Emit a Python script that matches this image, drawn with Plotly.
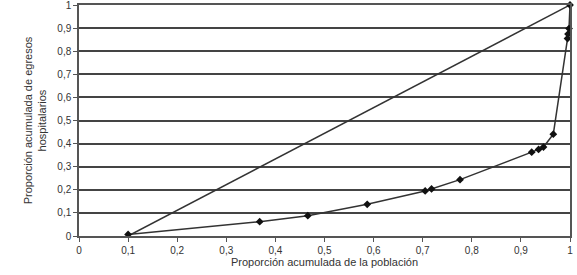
import plotly.graph_objects as go

# Lorenz curve data (cumulative population vs cumulative hospital discharges)
pop_cum = [0.1, 0.368, 0.466, 0.587, 0.705, 0.718, 0.776, 0.922, 0.936, 0.946, 0.966, 0.995, 0.996, 0.998, 1.0]
egr_cum = [0.007, 0.062, 0.088, 0.137, 0.195, 0.204, 0.244, 0.363, 0.375, 0.385, 0.441, 0.855, 0.874, 0.898, 1.0]

# Equality line
eq_x = [0.1, 1.0]
eq_y = [0.0, 1.0]

x_ticks = [0, 0.1, 0.2, 0.3, 0.4, 0.5, 0.6, 0.7, 0.8, 0.9, 1]
x_ticklabels = ["0", "0,1", "0,2", "0,3", "0,4", "0,5", "0,6", "0,7", "0,8", "0,9", "1"]
y_ticks = [0, 0.1, 0.2, 0.3, 0.4, 0.5, 0.6, 0.7, 0.8, 0.9, 1]
y_ticklabels = ["0", "0,1", "0,2", "0,3", "0,4", "0,5", "0,6", "0,7", "0,8", "0,9", "1"]

fig = go.Figure()
fig.add_trace(go.Scatter(x=eq_x, y=eq_y, mode="lines",
                         line=dict(color="#333333", width=1.5), showlegend=False,
                         cliponaxis=False))
fig.add_trace(go.Scatter(x=pop_cum, y=egr_cum, mode="lines+markers",
                         line=dict(color="#333333", width=1.5),
                         marker=dict(symbol="diamond", size=6, color="#111111"),
                         showlegend=False, cliponaxis=False))

font = dict(family="Liberation Sans, Arial, sans-serif", size=10, color="#333333")

fig.update_layout(
    width=577, height=275,
    margin=dict(l=79, r=7, t=5, b=39, autoexpand=False),
    paper_bgcolor="white", plot_bgcolor="white",
    font=font,
    xaxis=dict(range=[0, 1], tickvals=x_ticks, ticktext=x_ticklabels, automargin=False,
               ticklabeloverflow="allow",
               showgrid=False, zeroline=False, showline=True, linecolor="#555555",
               linewidth=1.5, mirror=True, ticks="outside", ticklen=4, tickcolor="#555555",
               title=dict(text="Proporción acumulada de la población", standoff=2,
                          font=dict(size=11, color="#333333"))),
    yaxis=dict(range=[0, 1], tickvals=y_ticks, ticktext=y_ticklabels, automargin=False,
               ticklabeloverflow="allow",
               showgrid=True, gridcolor="#444444", gridwidth=1.5,
               zeroline=False, showline=True, linecolor="#555555", linewidth=1.5,
               mirror=True, ticks="outside", ticklen=4, tickcolor="#555555",
               title=dict(text="Proporción acumulada de egresos<br>hospitalarios", standoff=8,
                          font=dict(size=11, color="#333333"))),
)

fig.write_html("out.html", config={"displayModeBar": False},
               post_script="document.body.style.margin='0';")
